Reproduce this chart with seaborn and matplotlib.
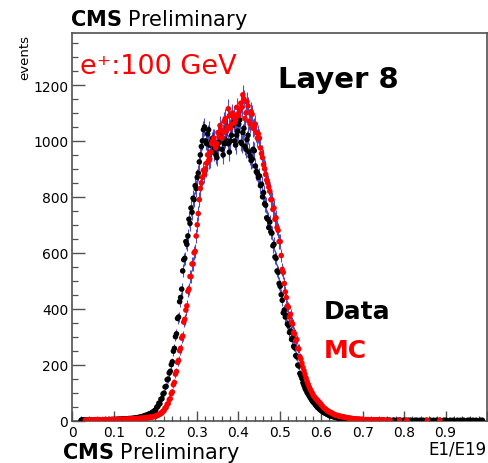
import numpy as np
import pandas as pd
import matplotlib
matplotlib.use("Agg")
import matplotlib.pyplot as plt
from matplotlib.ticker import MultipleLocator, FuncFormatter
import seaborn as sns

# Histogram binning: 400 bins of width 0.0025 on [0, 1]; one row = 20 bins
bin_width = 0.0025
n_bins = 400

# Data counts per bin (E1/E19, layer 8, e+ 100 GeV)
data_counts = [
    0, 0, 0, 0, 0, 0, 0, 0, 1, 2, 1, 2, 1, 1, 2, 1, 2, 2, 1, 2,
    2, 2, 3, 2, 2, 3, 2, 2, 3, 3, 2, 3, 3, 2, 3, 4, 3, 3, 4, 3,
    4, 3, 4, 3, 5, 4, 4, 5, 5, 6, 6, 5, 5, 6, 7, 7, 6, 8, 7, 8,
    9, 8, 10, 10, 12, 11, 13, 14, 15, 16, 18, 19, 20, 22, 24, 25, 27, 30, 32, 36,
    38, 48, 50, 62, 60, 76, 78, 95, 98, 120, 122, 146, 148, 170, 176, 200, 210, 248, 258, 300,
    310, 365, 370, 425, 440, 470, 535, 575, 580, 640, 630, 660, 720, 705, 760, 745, 795, 790, 840, 830,
    870, 885, 925, 950, 980, 1000, 1040, 1050, 1000, 990, 1025, 1040, 985, 960, 1000, 1010, 960, 975, 950, 940,
    975, 995, 1020, 1030, 970, 950, 990, 1005, 1035, 1050, 990, 960, 1000, 1020, 1055, 1065, 1000, 985, 1020, 1035,
    1060, 1075, 995, 990, 1030, 1045, 980, 970, 1005, 1020, 960, 945, 930, 935, 970, 965, 910, 890, 885, 870,
    875, 840, 845, 800, 815, 775, 770, 725, 720, 690, 710, 675, 670, 625, 630, 585, 580, 535, 530, 490,
    480, 450, 430, 385, 395, 370, 375, 345, 340, 315, 320, 290, 295, 265, 260, 232, 228, 198, 195, 168,
    160, 150, 135, 125, 115, 108, 100, 95, 88, 82, 76, 70, 65, 62, 56, 52, 47, 44, 40, 37,
    34, 32, 29, 27, 25, 23, 21, 19, 17, 16, 15, 14, 13, 12, 11, 10, 9, 8, 8, 7,
    7, 6, 6, 5, 5, 5, 4, 4, 4, 3, 3, 3, 3, 2, 2, 3, 2, 2, 2, 2,
    2, 2, 1, 2, 2, 1, 1, 1, 2, 1, 1, 1, 0, 1, 1, 1, 1, 0, 1, 1,
    1, 0, 0, 1, 1, 0, 1, 0, 0, 1, 1, 0, 0, 1, 0, 1, 1, 0, 0, 1,
    0, 1, 0, 0, 1, 0, 1, 0, 0, 0, 1, 0, 1, 0, 0, 1, 0, 0, 1, 0,
    0, 1, 0, 0, 0, 1, 0, 0, 1, 0, 0, 1, 0, 0, 1, 0, 0, 0, 1, 0,
    1, 0, 0, 0, 1, 0, 0, 1, 0, 0, 0, 1, 0, 0, 1, 0, 0, 1, 0, 0,
    0, 1, 0, 1, 0, 0, 1, 0, 0, 1, 0, 0, 0, 1, 0, 1, 0, 0, 0, 0,
]

# Simulation counts per bin
mc_counts = [
    0, 0, 0, 0, 0, 0, 0, 0, 0, 0, 0, 0, 1, 1, 2, 1, 1, 2, 1, 2,
    2, 1, 2, 2, 2, 2, 3, 2, 2, 3, 3, 2, 3, 2, 3, 3, 2, 3, 3, 3,
    3, 4, 3, 4, 3, 4, 3, 4, 4, 5, 4, 4, 5, 4, 5, 5, 5, 6, 5, 6,
    6, 7, 6, 7, 7, 8, 8, 8, 8, 9, 9, 10, 10, 11, 11, 12, 12, 13, 14, 15,
    15, 18, 18, 22, 22, 27, 27, 34, 35, 45, 46, 58, 60, 74, 78, 96, 102, 128, 136, 166,
    175, 208, 215, 250, 258, 295, 302, 352, 362, 395, 410, 462, 470, 515, 515, 560, 560, 600, 605, 660,
    700, 740, 790, 830, 850, 870, 895, 880, 900, 920, 950, 930, 935, 960, 990, 1000, 1010, 985, 975, 990,
    1030, 1015, 1055, 1040, 1010, 1030, 1070, 1080, 1035, 1050, 1115, 1090, 1045, 1060, 1100, 1085, 1065, 1075, 1120, 1095,
    1090, 1110, 1135, 1120, 1165, 1150, 1080, 1100, 1140, 1125, 1070, 1060, 1105, 1095, 1045, 1050, 1060, 1030, 1010, 1025,
    1010, 975, 955, 940, 915, 900, 880, 860, 850, 835, 820, 790, 790, 755, 760, 720, 725, 690, 680, 640,
    640, 590, 540, 530, 490, 460, 440, 410, 405, 370, 380, 350, 345, 315, 310, 285, 290, 258, 256, 228,
    220, 205, 190, 178, 165, 152, 140, 130, 120, 112, 105, 98, 90, 85, 80, 76, 72, 68, 64, 60,
    55, 50, 46, 43, 40, 37, 34, 32, 30, 28, 26, 24, 22, 20, 19, 18, 17, 16, 15, 14,
    14, 13, 12, 11, 10, 10, 9, 8, 8, 7, 7, 6, 6, 5, 5, 5, 5, 4, 4, 4,
    4, 3, 3, 3, 3, 3, 3, 2, 2, 2, 2, 2, 2, 2, 2, 1, 1, 2, 1, 1,
    1, 1, 0, 1, 0, 0, 1, 0, 0, 0, 0, 0, 0, 0, 0, 1, 0, 0, 0, 0,
    0, 0, 1, 0, 0, 0, 0, 0, 0, 0, 0, 0, 0, 0, 0, 0, 0, 0, 0, 0,
    0, 0, 1, 0, 0, 0, 0, 0, 0, 0, 0, 0, 0, 0, 1, 0, 0, 0, 0, 0,
    0, 0, 0, 0, 0, 0, 0, 0, 0, 0, 0, 0, 0, 0, 0, 0, 0, 0, 0, 0,
    0, 0, 0, 0, 0, 0, 0, 0, 0, 0, 0, 0, 0, 0, 0, 0, 0, 0, 0, 0,
]

bin_centers = (np.arange(n_bins) + 0.5) * bin_width

frames = []
for name, counts in (("Data", data_counts), ("MC", mc_counts)):
    frames.append(pd.DataFrame({"x": bin_centers, "events": counts, "sample": name}))
df = pd.concat(frames, ignore_index=True)
df = df[df["events"] > 0]
df["err"] = np.sqrt(df["events"])

sns.set_style("ticks")
plt.rcParams["font.family"] = ["DejaVu Sans"]
plt.rcParams["text.color"] = "black"

W, H = 489, 464
fig = plt.figure(figsize=(W / 100, H / 100), dpi=100)
ax = fig.add_axes([72.3 / W, 1 - 421.5 / H, (487 - 72.3) / W, (421.5 - 34) / H])

frame_col = "#505050"
err_col = "#2424b4"
palette = {"Data": "black", "MC": "red"}

for name in ("Data", "MC"):
    sub = df[df["sample"] == name]
    ax.errorbar(sub["x"], sub["events"], yerr=sub["err"], fmt="none",
                ecolor=err_col, elinewidth=0.8, alpha=0.8, zorder=2)
    sns.scatterplot(data=sub, x="x", y="events", color=palette[name], s=16,
                    edgecolor="none", linewidth=0, legend=False, ax=ax, zorder=3)

ax.set_xlim(0, 1.0)
ax.set_ylim(0, 1386)
ax.set_xlabel("")
ax.set_ylabel("")

ax.xaxis.set_major_locator(MultipleLocator(0.1))
ax.xaxis.set_minor_locator(MultipleLocator(0.02))
ax.yaxis.set_major_locator(MultipleLocator(200))
ax.yaxis.set_minor_locator(MultipleLocator(50))


def xfmt(v, pos):
    if abs(v) < 1e-9:
        return "0"
    if v > 0.95:
        return ""
    return f"{v:.1f}"


ax.xaxis.set_major_formatter(FuncFormatter(xfmt))
ax.yaxis.set_major_formatter(FuncFormatter(lambda v, p: f"{int(round(v))}"))

for s in ax.spines.values():
    s.set_color(frame_col)
    s.set_linewidth(1.2)
    s.set_visible(True)

ax.tick_params(axis="both", which="both", direction="in", colors=frame_col,
               labelcolor="black", top=False, right=False, labelsize=10)
ax.tick_params(axis="x", which="major", length=7, width=1.0, pad=3)
ax.tick_params(axis="x", which="minor", length=3.5, width=0.9)
ax.tick_params(axis="y", which="major", length=9, width=1.0, pad=3)
ax.tick_params(axis="y", which="minor", length=4.5, width=0.9)


def ftext(xp, yp, s, **kw):
    fig.text(xp / W, 1 - yp / H, s, **kw)


# Header and footer labels
ftext(70, 26, r"$\bf{CMS}$ Preliminary", fontsize=15, va="baseline", ha="left",
      color="black")
ftext(62, 459, r"$\bf{CMS}$ Preliminary", fontsize=15, va="baseline", ha="left",
      color="black")
ftext(487, 455, "E1/E19", fontsize=12, va="baseline", ha="right", color="black")
ftext(25, 58, "events", fontsize=9.5, rotation=90, ha="center", va="center",
      color="black")

# In-plot annotations
ftext(80, 74, "e\u207a:100 GeV", fontsize=19.5, color="red", va="baseline", ha="left")
ftext(278, 88, "Layer 8", fontsize=21, fontweight="bold", va="baseline", ha="left",
      color="black")
ftext(324, 319, "Data", fontsize=18, fontweight="bold", va="baseline", ha="left",
      color="black")
ftext(324, 358, "MC", fontsize=18, fontweight="bold", color="red",
      va="baseline", ha="left")

fig.savefig("out.png", dpi=100)
